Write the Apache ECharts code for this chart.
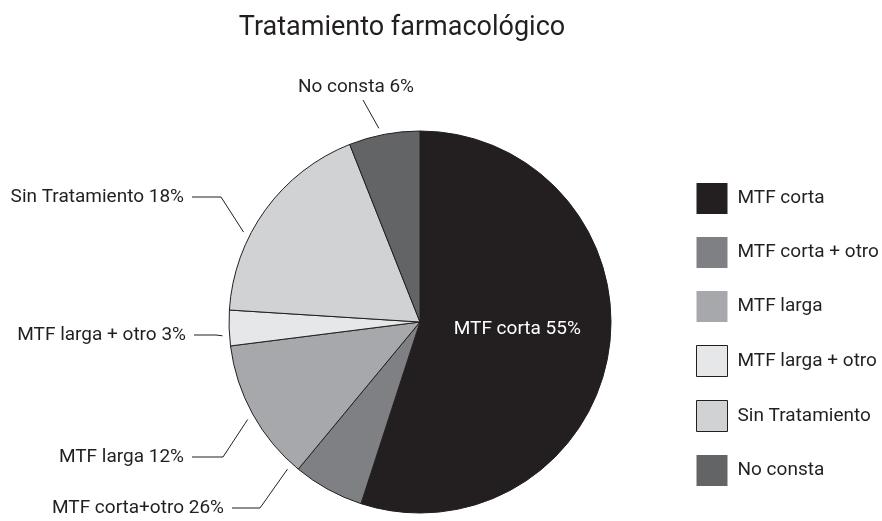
<!DOCTYPE html>
<html>
<head>
<meta charset="utf-8">
<script src="https://cdn.jsdelivr.net/npm/echarts@6/dist/echarts.min.js"></script>
<style>
  html, body { margin: 0; padding: 0; background: #fff; }
  #chart { width: 882px; height: 521px; }
</style>
</head>
<body>
<div id="chart"></div>
<script>
const categories = ["MTF corta", "MTF corta + otro", "MTF larga", "MTF larga + otro", "Sin Tratamiento", "No consta"];
const values = [55, 6, 12, 3, 18, 6];
// texts as printed on the original (the 26% is how the source labels it)
const labelTexts = ["MTF corta 55%", "MTF corta+otro 26%", "MTF larga 12%", "MTF larga + otro 3%", "Sin Tratamiento 18%", "No consta 6%"];
const colors = ["#231f20", "#7f8083", "#a7a8ab", "#e6e7e8", "#d1d2d4", "#636466"];

const font = "'Liberation Sans Narrow', 'Roboto', sans-serif";
const center = [420, 322];
const radius = 191;

// where the outside labels sit (right end of text / centre for the top one), the bend of their lines,
// and the angle (deg, clockwise from 12 o'clock) where each line points at the pie
const labelAnchors = [null, [224, 508], [184, 457], [186, 335], [184, 197], [356, 87]];
const labelKnees = [null, [260, 508], [223, 457], [216, 335], [221, 197], [363, 100]];
const lineAngles = [null, 222, 240.5, 266, 297, 348];

let chartDom = document.getElementById("chart");
let myChart = echarts.init(chartDom);
let option;
option = {
  animation: false,
  color: colors,
  title: {
    text: "Tratamiento farmacológico",
    left: 397,
    top: 10,
    textAlign: "center",
    textStyle: { fontFamily: font, fontSize: 27, fontWeight: "normal", color: "#231f20" },
  },
  legend: {
    orient: "vertical",
    left: 696,
    top: 183,
    padding: 0,
    itemWidth: 31,
    itemHeight: 31,
    itemGap: 23,
    icon: "rect",
    textStyle: { fontFamily: font, fontSize: 19, color: "#231f20", padding: [0, 0, 0, 5] },
    data: categories.map((c, i) => ({
      name: c,
      itemStyle: i === 3 || i === 4
        ? { borderColor: "#231f20", borderWidth: 1 }
        : { borderWidth: 0 },
    })),
  },
  series: [
    {
      type: "pie",
      center: center,
      radius: radius,
      startAngle: 90,
      clockwise: true,
      itemStyle: { borderColor: "#231f20", borderWidth: 1 },
      label: {
        show: true,
        position: "outside",
        fontFamily: font,
        fontSize: 19,
        color: "#231f20",
        overflow: "none",
        formatter: (p) => labelTexts[p.dataIndex],
      },
      labelLine: {
        show: true,
        length: 20,
        length2: 20,
        lineStyle: { color: "#231f20", width: 1 },
      },
      labelLayout: function (params) {
        const i = params.dataIndex;
        if (i === 0) return { dy: -8 };
        // line starts a few px off the pie edge
        const t = (lineAngles[i] * Math.PI) / 180;
        const r = radius + 7;
        const start = [center[0] + Math.sin(t) * r, center[1] - Math.cos(t) * r];
        const a = labelAnchors[i];
        const k = labelKnees[i];
        if (i === 5) {
          return {
            x: a[0],
            y: a[1],
            align: "center",
            verticalAlign: "middle",
            labelLinePoints: [start, k, k],
          };
        }
        return {
          x: a[0],
          y: a[1],
          align: "right",
          verticalAlign: "middle",
          labelLinePoints: [start, k, [a[0] + 8, a[1]]],
        };
      },
      emphasis: { disabled: true },
      data: categories.map((c, i) => {
        const d = { name: c, value: values[i] };
        if (i === 0) {
          d.label = { position: "inside", color: "#ffffff" };
        }
        return d;
      }),
    },
  ],
};
myChart.setOption(option);
</script>
</body>
</html>
